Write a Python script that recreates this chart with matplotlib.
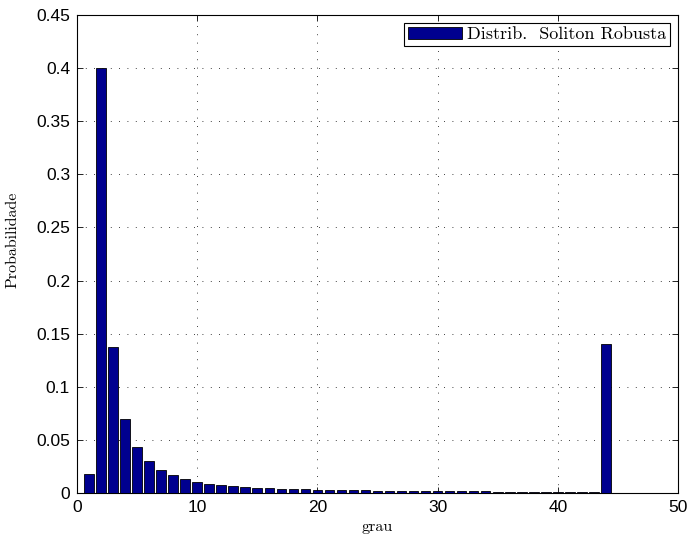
import numpy as np
import matplotlib
matplotlib.use("Agg")
import matplotlib.pyplot as plt

# degree values (grau) and robust soliton probabilities
grau = list(range(1, 46))
prob = [0.0180, 0.4000, 0.1370, 0.0700, 0.0432, 0.0297, 0.0218, 0.0166, 0.0133, 0.0108,
        0.0088, 0.0073, 0.0064, 0.0057, 0.0050, 0.0045, 0.0040, 0.0037, 0.0034, 0.0031,
        0.0029, 0.0027, 0.0025, 0.0024, 0.0022, 0.0021, 0.0020, 0.0019, 0.0018, 0.0017,
        0.0017, 0.0016, 0.0015, 0.0015, 0.0014, 0.0014, 0.0013, 0.0013, 0.0012, 0.0012,
        0.0011, 0.0011, 0.0010, 0.1400, 0.0002]
legend_label = "Distrib.  Soliton Robusta"

fig = plt.figure(figsize=(6.88, 5.39), dpi=100)
ax = fig.add_axes([77 / 688, 1 - 493 / 539, 601 / 688, 478 / 539])

ax.bar(grau, prob, width=0.8, color=(0, 0, 0.5625), edgecolor="black",
       linewidth=0.6, label=legend_label, zorder=3)

ax.set_xlim(0, 50)
ax.set_ylim(0, 0.45)
ax.set_xticks(np.arange(0, 51, 10))
ax.set_yticks(np.arange(0, 0.451, 0.05))
ax.set_yticklabels(["0", "0.05", "0.1", "0.15", "0.2", "0.25", "0.3", "0.35", "0.4", "0.45"])

ax.grid(True, color="black", linestyle=(0, (1, 9)), linewidth=0.6, zorder=0)
ax.tick_params(direction="in", top=True, right=True, length=4, width=0.6,
               labelsize=12.5, pad=5)
for lab in ax.get_xticklabels() + ax.get_yticklabels():
    lab.set_fontfamily("Liberation Sans")
for sp in ax.spines.values():
    sp.set_linewidth(0.8)

serif = {"fontfamily": "cmr10", "fontsize": 11.5}
ax.set_xlabel("grau", labelpad=4, **serif)
ax.set_ylabel("Probabilidade", labelpad=6, **serif)
ax.yaxis.set_label_coords(-0.095, 0.53)

leg = ax.legend(loc="upper right", prop={"family": "cmr10", "size": 13},
                fancybox=False, framealpha=1, edgecolor="black",
                handlelength=3.0, handleheight=0.65, borderpad=0.2,
                handletextpad=0.3, borderaxespad=0.45)
leg.get_frame().set_linewidth(0.8)

fig.savefig("out.png", dpi=100)
